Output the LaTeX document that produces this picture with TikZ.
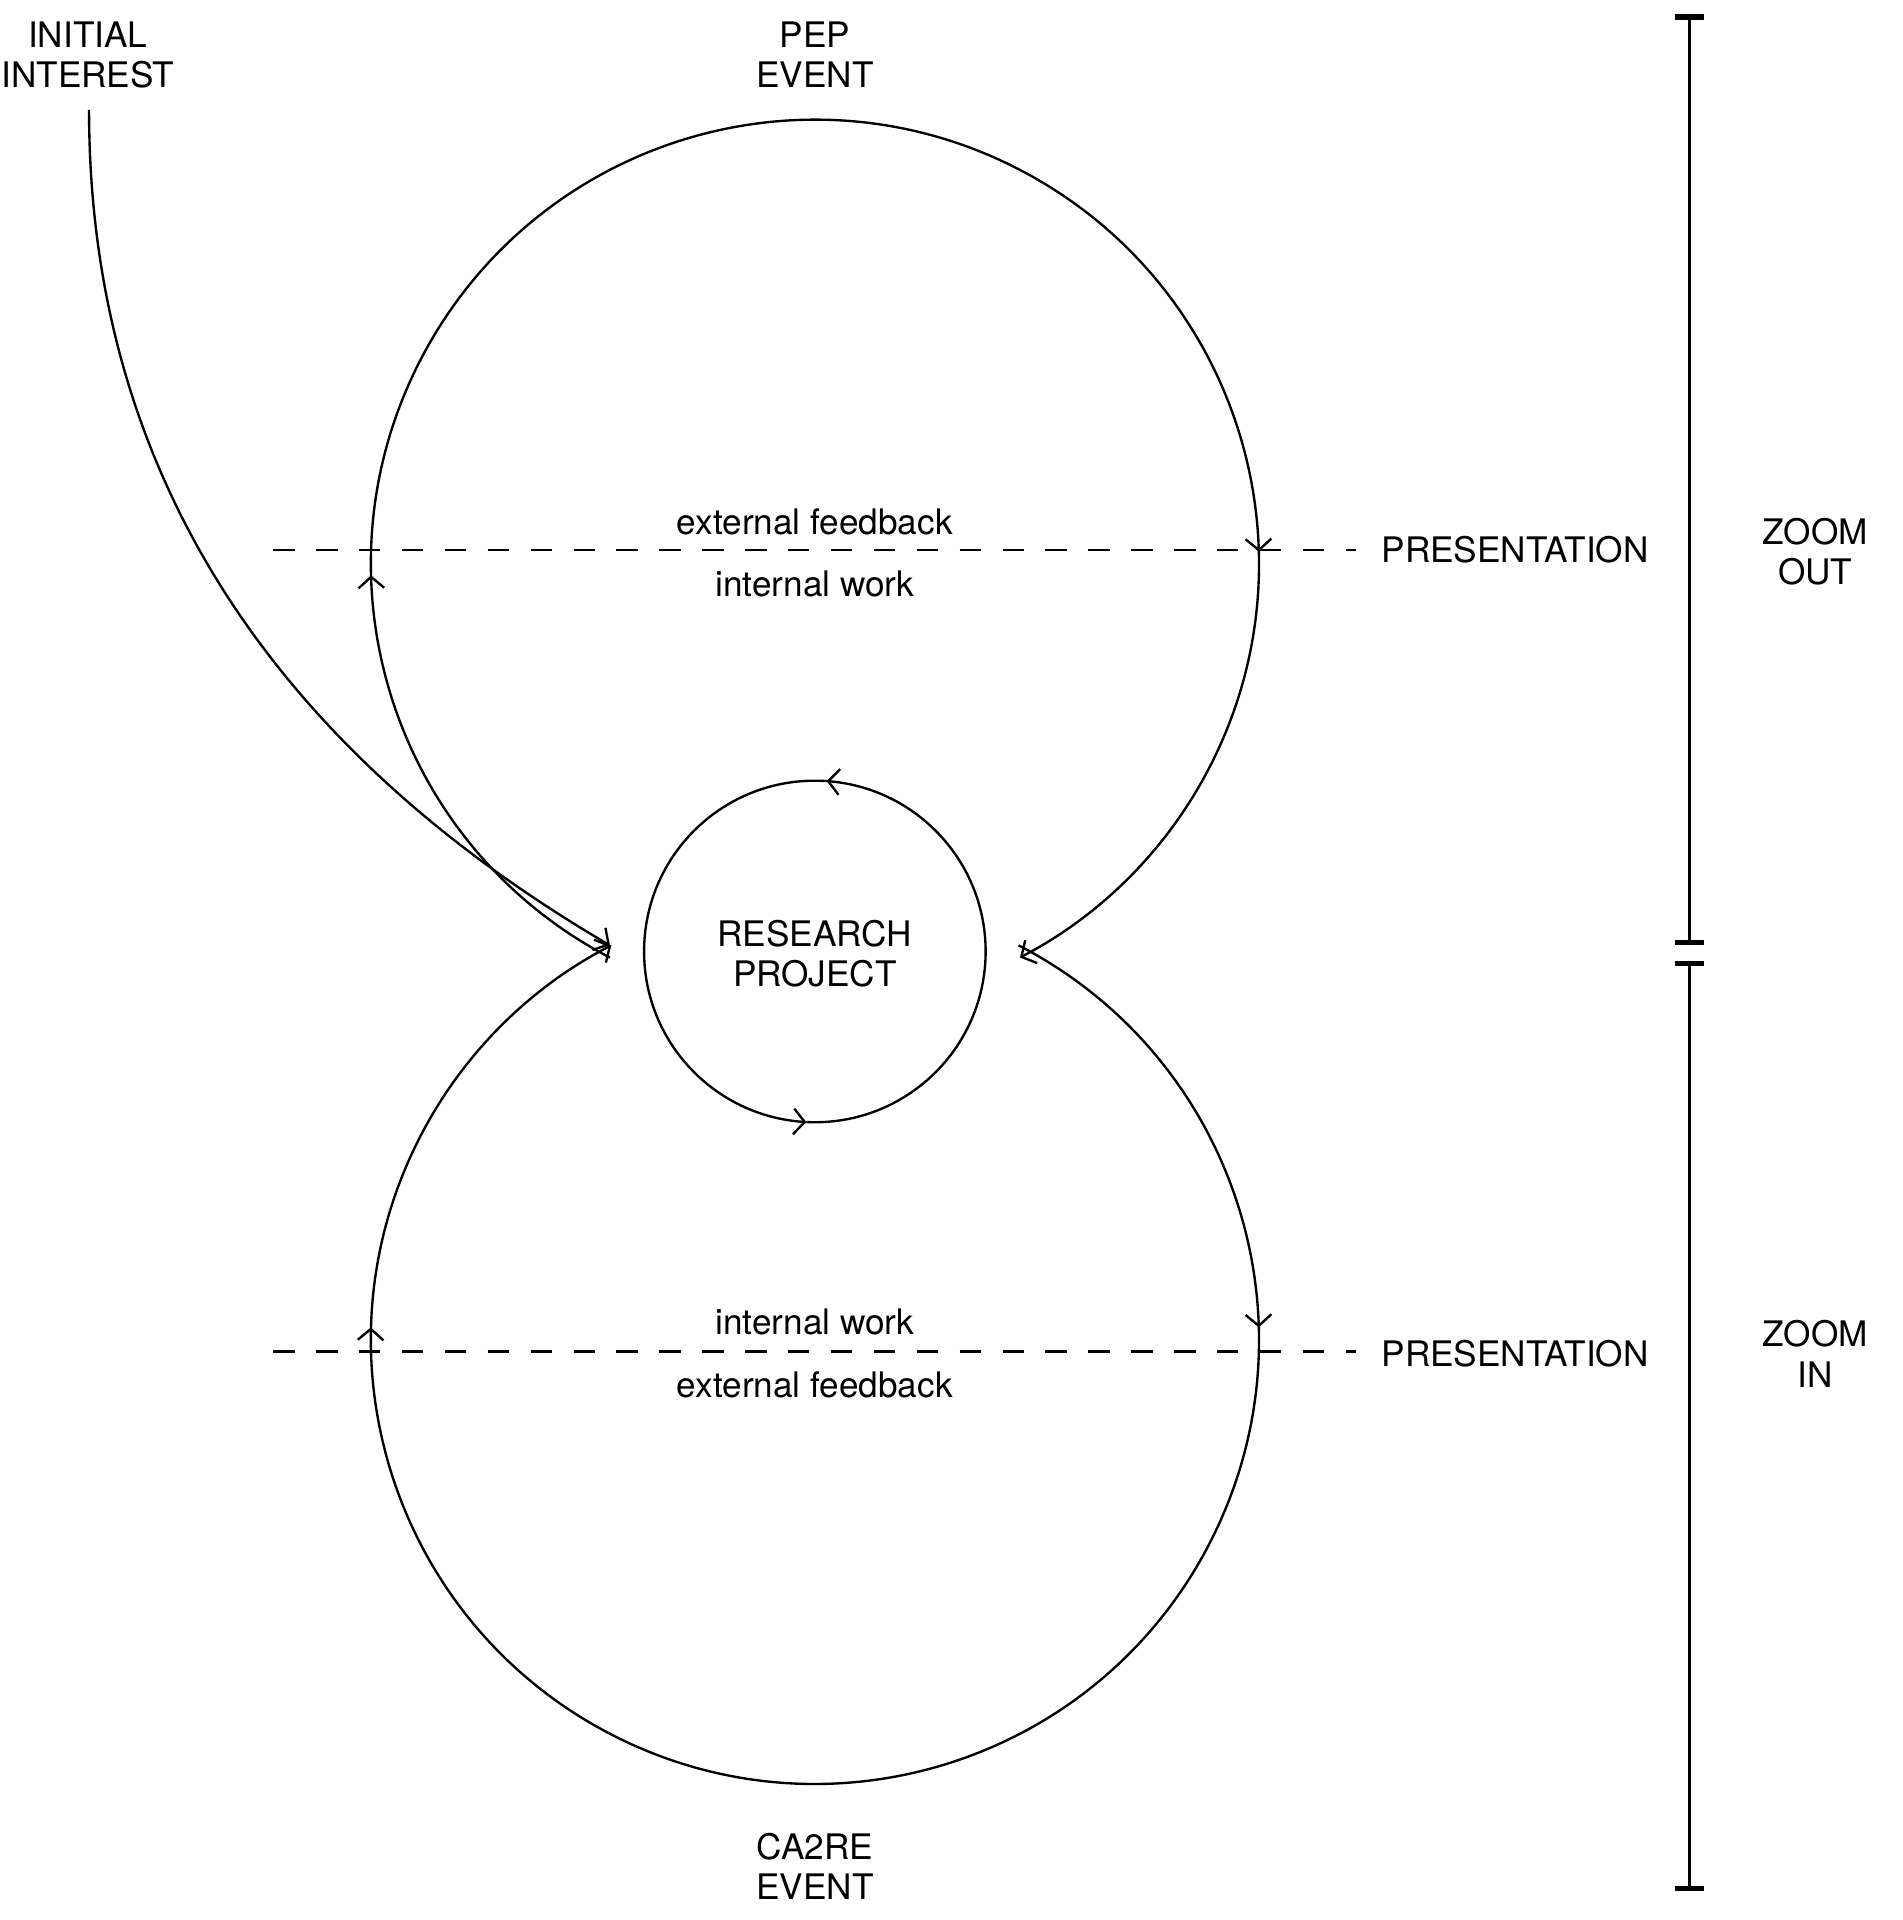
\documentclass[tikz,border=0pt]{standalone}
\usepackage{fontspec}
\setmainfont{TeX Gyre Heros}
\usetikzlibrary{arrows.meta,decorations.markings}
\tikzset{
    lbl/.style={font=\fontsize{8.2}{9.4}\selectfont, align=center, inner sep=0pt},
    barb/.style={-{Straight Barb[length=2.6pt,width=6pt]}},
    dashline/.style={dash pattern=on 5pt off 5pt},
    midarrows/.style 2 args={postaction={decorate}, decoration={markings,
        mark=at position #1 with {\arrow{Straight Barb[length=2.6pt,width=6pt]}},
        mark=at position #2 with {\arrow{Straight Barb[length=2.6pt,width=6pt]}}}},
}
\begin{document}
\begin{tikzpicture}[x=0.01cm, y=-0.01cm, line width=0.55pt]
    \useasboundingbox (0,0) rectangle (1560,1574);
    % labels
    \node[lbl] (ii) at (72,45) {INITIAL\\INTEREST};
    \node[lbl] (pep) at (668,45) {PEP\\EVENT};
    \node[lbl] (ca) at (668,1530) {CA2RE\\EVENT};
    \node[lbl] (rp) at (668,782) {RESEARCH\\PROJECT};
    \node[lbl] at (668,428) {external feedback};
    \node[lbl] at (668,479) {internal work};
    \node[lbl] at (668,1084) {internal work};
    \node[lbl] at (668,1135) {external feedback};
    \node[lbl] (p1) at (1242,451) {PRESENTATION};
    \node[lbl] (p2) at (1242,1110) {PRESENTATION};
    \node[lbl] at (1488,452) {ZOOM\\OUT};
    \node[lbl] at (1488,1110) {ZOOM\\IN};
    \coordinate (in) at (500,775);
    \coordinate (out) at (835,775);
    \coordinate (in2) at (500,785);
    % dashed levels
    \draw[dashline] (224,451) -- (1112,451);
    \draw[dashline] (224,1108) -- (1112,1108);
    % loops
    \draw[barb, midarrows={0.2}{0.8}] (out) arc[start angle=-62.7, end angle=242.7, radius=364];
    \draw[barb, midarrows={0.2}{0.79}] (in2) arc[start angle=117.5, end angle=422.5, radius=364];
    \draw[midarrows={0.242}{0.739}] (528,780) arc[start angle=180, end angle=-180, radius=140];
    \draw[barb] (73,90) .. controls (73,430) and (270,640) .. (in);
    % scale
    \draw (1385,14) -- (1385,773);
    \draw (1385,790) -- (1385,1548);
    \foreach \y in {14,773,790,1548}
        \draw[line width=1.2pt] (1373,\y) -- (1397,\y);
\end{tikzpicture}
\end{document}
